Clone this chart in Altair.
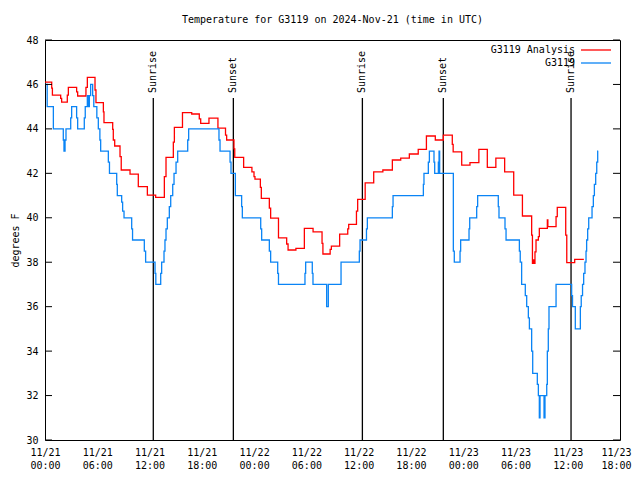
import altair as alt
import pandas as pd

# ---------------- data ----------------
# hours since 2024-11-21 00:00 UTC, temperatures in degrees F
red_hours = [0.0, 0.77, 0.85, 1.8, 1.91, 2.56, 2.68, 3.63, 3.75, 4.7, 4.86, 5.74, 5.85, 6.7, 6.77,
             7.77, 7.84, 8.0, 8.61, 8.75, 9.76, 10.71, 11.75, 12.7, 13.7, 13.89, 14.73, 14.85,
             15.78, 16.84, 17.71, 17.87, 18.82, 19.85, 20.72, 20.85, 21.69, 21.78, 22.8, 23.75,
             23.99, 24.1, 24.72, 24.83, 25.75, 25.9, 26.8, 27.74, 27.9, 28.8, 29.77, 30.77, 31.8,
             31.9, 32.73, 32.87, 33.82, 34.75, 34.86, 35.75, 35.89, 36.75, 37.73, 38.78, 39.87,
             40.83, 41.82, 42.84, 43.78, 44.8, 45.72, 46.75, 46.85, 47.83, 48.78, 49.8, 50.77,
             51.75, 52.76, 53.8, 54.8, 55.86, 55.95, 56.05, 56.17, 56.24, 56.36, 56.63, 56.74,
             57.66, 57.72, 58.66, 58.8, 59.77, 59.89, 60.8, 61.85]
red_temps = [46.1, 45.83, 45.52, 45.37, 45.2, 45.52, 45.87, 45.67, 45.48, 45.87, 46.32, 45.75, 45.18,
             44.77, 44.28, 43.98, 43.5, 43.23, 42.75, 42.15, 41.96, 41.4, 41.02, 40.92, 41.85,
             42.72, 43.4, 44.07, 44.73, 44.67, 44.45, 44.25, 44.48, 44.03, 43.72, 43.5, 43.1,
             42.72, 42.27, 42.07, 41.85, 41.74, 41.37, 40.87, 40.43, 39.98, 39.1, 38.82, 38.55,
             38.62, 39.52, 39.37, 38.85, 38.37, 38.58, 38.72, 39.26, 39.5, 39.7, 40.3, 40.83,
             41.57, 42.07, 42.15, 42.6, 42.68, 42.87, 43.08, 43.68, 43.5, 43.72, 43.3, 42.97,
             42.37, 42.48, 43.08, 42.27, 42.68, 42.07, 41.02, 40.08, 39.22, 37.95, 38.1, 37.95,
             38.47, 39.0, 39.15, 39.52, 39.9, 39.6, 40.05, 40.47, 39.22, 37.98, 38.13, 38.13]

blue_hours = [0.0, 0.25, 0.96, 2.1, 2.18, 2.3, 2.41, 2.95, 3.06, 3.63, 3.75, 4.51, 4.62, 4.86, 4.97,
              5.09, 5.24, 5.47, 5.6, 5.95, 6.12, 6.3, 6.39, 7.27, 7.4, 8.23, 8.3, 8.8, 8.91, 9.07,
              9.95, 10.05, 11.4, 11.55, 12.63, 12.72, 13.28, 13.39, 13.66, 13.77, 13.89, 14.04,
              14.27, 14.43, 14.66, 14.81, 15.04, 15.23, 16.38, 16.49, 19.97, 20.09, 21.24, 21.35,
              21.85, 22.57, 22.65, 24.76, 24.87, 25.75, 25.9, 26.71, 26.8, 29.84, 29.92, 30.68,
              30.76, 32.33, 32.52, 33.98, 36.08, 36.16, 36.9, 37.0, 39.87, 39.95, 43.43, 43.5,
              44.0, 44.12, 44.65, 44.73, 45.15, 45.23, 45.3, 46.87, 46.98, 47.64, 47.71, 48.67,
              48.75, 49.55, 49.66, 52.03, 52.11, 52.8, 52.92, 54.45, 54.55, 54.71, 55.13, 55.29,
              55.48, 55.6, 55.86, 55.98, 56.51, 56.63, 56.74, 56.82, 57.28, 57.39, 57.59, 57.66,
              57.77, 57.85, 58.66, 60.45, 60.55, 60.87, 61.45, 61.55, 61.7, 61.83, 61.98, 62.1,
              62.17, 62.29, 62.41, 62.79, 62.94, 63.06, 63.21, 63.33, 63.44, 63.5]
blue_temps = [46.0, 45.0, 44.0, 43.5, 43.0, 43.5, 44.0, 44.5, 45.0, 44.5, 44.0, 44.5, 45.0, 45.5, 45.0,
              45.5, 46.0, 45.5, 45.0, 44.5, 44.0, 43.5, 43.0, 42.5, 42.0, 41.5, 41.0, 40.7, 40.3, 40.0,
              39.5, 39.0, 38.5, 38.0, 37.5, 37.0, 37.5, 38.0, 38.5, 39.0, 39.5, 40.0,
              40.5, 41.0, 41.5, 42.0, 42.5, 43.0, 43.5, 44.0, 43.5, 43.0, 42.5, 42.0,
              41.0, 40.5, 40.0, 39.5, 39.0, 38.5, 38.0, 37.5, 37.0, 37.5, 38.0, 37.5,
              37.0, 36.0, 37.0, 38.0, 38.5, 39.0, 39.5, 40.0, 40.5, 41.0, 41.5, 42.0,
              42.5, 43.0, 42.5, 42.0, 42.5, 43.0, 42.0, 38.5, 38.0, 38.5, 39.0, 39.5,
              40.0, 40.5, 41.0, 40.5, 40.0, 39.5, 39.0, 38.5, 38.0, 37.0, 36.5, 36.0,
              35.5, 35.0, 34.0, 33.0, 32.5, 32.0, 31.0, 32.0, 31.0, 32.0, 32.5, 34.0,
              35.0, 36.0, 37.0, 36.5, 36.0, 35.0, 36.0, 36.5, 37.0, 37.5, 38.0, 38.5,
              39.0, 39.5, 40.0, 40.5, 41.0, 41.5, 42.0, 42.5, 43.0, 43.0]

series_names = ["G3119 Analysis", "G3119"]
series_colors = ["#ff0000", "#0a84f5"]

event_hours = [12.43, 21.62, 36.43, 45.72, 60.38]
event_names = ["Sunrise", "Sunset", "Sunrise", "Sunset", "Sunrise"]

x_tick_hours = [0, 6, 12, 18, 24, 30, 36, 42, 48, 54, 60, 66]
x_tick_dates = ["11/21"] * 4 + ["11/22"] * 4 + ["11/23"] * 4
x_tick_times = ["00:00", "06:00", "12:00", "18:00"] * 3
y_ticks = [30, 32, 34, 36, 38, 40, 42, 44, 46, 48]

title_text = "Temperature for G3119 on 2024-Nov-21 (time in UTC)"
y_title = "degrees F"

FONT = "DejaVu Sans Mono"

# ---------------- frames ----------------
lines_df = pd.concat([
    pd.DataFrame({"hour": red_hours, "temp": red_temps, "series": series_names[0], "order": 0}),
    pd.DataFrame({"hour": blue_hours, "temp": blue_temps, "series": series_names[1], "order": 1}),
], ignore_index=True)
events_df = pd.DataFrame({"hour": event_hours, "name": event_names})
legend_df = pd.DataFrame({"series": series_names})
yt_df = pd.DataFrame({"temp": y_ticks})

label_expr = ""
for h, d, t in zip(x_tick_hours, x_tick_dates, x_tick_times):
    label_expr += f"datum.value == {h} ? ['{d}', '{t}'] : "
label_expr += "''"

x_scale = alt.Scale(domain=[0, 66], nice=False, zero=False)
y_scale = alt.Scale(domain=[30, 48], nice=False, zero=False)

x_axis = alt.Axis(
    values=x_tick_hours, labelExpr=label_expr, ticks=False, domain=False, grid=False,
    labelFont=FONT, labelFontSize=10, labelColor="black", labelPadding=7,
    labelLineHeight=13, labelFlush=False, labelOverlap=False, title=None,
    labelOffset=alt.ConditionalAxisNumber(
        condition={"test": f"datum.value == {x_tick_hours[-1]}", "value": -4}, value=0))
y_axis = alt.Axis(values=y_ticks, ticks=False, domain=False, grid=False,
                  labelFont=FONT, labelFontSize=10, labelColor="black", labelPadding=7,
                  title=y_title, titleFont=FONT, titleFontSize=10, titleFontWeight="normal",
                  titleColor="black", titlePadding=5)

color_enc = alt.Color("series:N", scale=alt.Scale(domain=series_names, range=series_colors),
                      legend=None)

lines = alt.Chart(lines_df).mark_line(interpolate="step-after", strokeWidth=1.3).encode(
    x=alt.X("hour:Q", scale=x_scale, axis=x_axis),
    y=alt.Y("temp:Q", scale=y_scale, axis=y_axis),
    color=color_enc,
    order=alt.Order("order:Q"),
    detail="series:N",
)

event_rules = alt.Chart(events_df).mark_rule(color="black", strokeWidth=1.3).encode(
    x=alt.X("hour:Q", scale=x_scale, axis=x_axis),
    y=alt.value(58), y2=alt.value(400),
)
event_text = alt.Chart(events_df).mark_text(
    angle=270, align="left", baseline="middle", font=FONT, fontSize=10, color="black"
).encode(
    x=alt.X("hour:Q", scale=x_scale, axis=x_axis),
    y=alt.value(53),
    text="name:N",
)

left_ticks = alt.Chart(yt_df).mark_rule(color="black", strokeWidth=1).encode(
    y=alt.Y("temp:Q", scale=y_scale, axis=y_axis), x=alt.value(0), x2=alt.value(7))
right_ticks = alt.Chart(yt_df).mark_rule(color="black", strokeWidth=1).encode(
    y=alt.Y("temp:Q", scale=y_scale, axis=y_axis), x=alt.value(568), x2=alt.value(575))

legend_layers = []
for name, yy in zip(series_names, [10, 23]):
    sub = alt.Chart(legend_df).transform_filter(alt.datum.series == name)
    legend_layers.append(sub.mark_text(
        align="right", baseline="middle", font=FONT, fontSize=10, color="black"
    ).encode(x=alt.value(530), y=alt.value(yy), text="series:N"))
    legend_layers.append(sub.mark_rule(strokeWidth=1.3).encode(
        x=alt.value(536), x2=alt.value(566), y=alt.value(yy), color=color_enc))

chart = alt.layer(
    event_rules, event_text, lines, left_ticks, right_ticks, *legend_layers
).properties(
    width=575, height=400,
    autosize=alt.AutoSizeParams(type="none"),
    padding={"left": 37, "top": 32, "right": 12, "bottom": 32},
    title=alt.TitleParams(title_text, font=FONT, fontSize=10, fontWeight="normal",
                          color="black", anchor="middle", offset=10),
    background="white",
).configure_view(stroke="black", strokeWidth=1)

chart.save("out.html", embed_options={"renderer": "svg", "actions": False})
